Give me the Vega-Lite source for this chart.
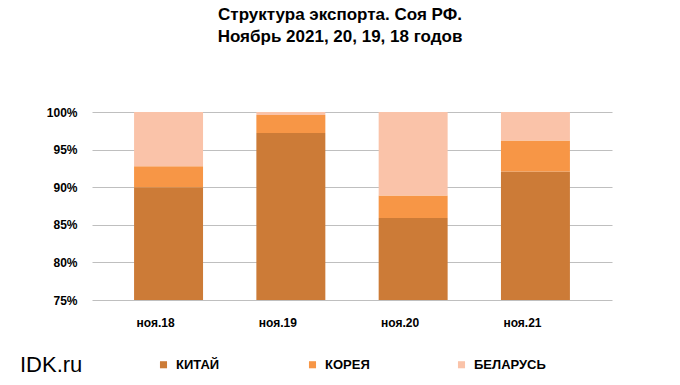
{
  "$schema": "https://vega.github.io/schema/vega-lite/v6.json",
  "width": 520,
  "height": 188,
  "autosize": {"type": "none"},
  "padding": {"left": 92, "top": 112, "right": 68, "bottom": 85},
  "background": "white",
  "title": {
    "text": ["Структура экспорта. Соя РФ.", "Ноябрь 2021, 20, 19, 18 годов"],
    "font": "Liberation Sans",
    "fontSize": 17,
    "fontWeight": "bold",
    "lineHeight": 22,
    "color": "#000000",
    "anchor": "middle",
    "offset": 60,
    "dx": -12
  },
  "data": {
    "values": [
      {"month": "ноя.18", "country": "КИТАЙ", "share": 0.900, "ord": 1},
      {"month": "ноя.18", "country": "КОРЕЯ", "share": 0.028, "ord": 2},
      {"month": "ноя.18", "country": "БЕЛАРУСЬ", "share": 0.072, "ord": 3},
      {"month": "ноя.19", "country": "КИТАЙ", "share": 0.972, "ord": 1},
      {"month": "ноя.19", "country": "КОРЕЯ", "share": 0.024, "ord": 2},
      {"month": "ноя.19", "country": "БЕЛАРУСЬ", "share": 0.004, "ord": 3},
      {"month": "ноя.20", "country": "КИТАЙ", "share": 0.859, "ord": 1},
      {"month": "ноя.20", "country": "КОРЕЯ", "share": 0.030, "ord": 2},
      {"month": "ноя.20", "country": "БЕЛАРУСЬ", "share": 0.111, "ord": 3},
      {"month": "ноя.21", "country": "КИТАЙ", "share": 0.921, "ord": 1},
      {"month": "ноя.21", "country": "КОРЕЯ", "share": 0.041, "ord": 2},
      {"month": "ноя.21", "country": "БЕЛАРУСЬ", "share": 0.038, "ord": 3}
    ]
  },
  "mark": {"type": "bar", "clip": true},
  "encoding": {
    "x": {
      "field": "month",
      "type": "nominal",
      "sort": ["ноя.18", "ноя.19", "ноя.20", "ноя.21"],
      "scale": {"paddingInner": 0.436, "paddingOuter": 0.344},
      "axis": {
        "title": null,
        "labelAngle": 0,
        "labelFont": "Liberation Sans",
        "labelFontSize": 12,
        "labelFontWeight": "bold",
        "labelColor": "#000000",
        "labelPadding": 17,
        "labelOffset": -13,
        "ticks": false,
        "domain": false
      }
    },
    "y": {
      "field": "share",
      "type": "quantitative",
      "stack": "zero",
      "scale": {"domain": [0.75, 1], "nice": false},
      "axis": {
        "title": null,
        "values": [0.75, 0.8, 0.85, 0.9, 0.95, 1.0],
        "format": ".0%",
        "labelFont": "Liberation Sans",
        "labelFontSize": 12,
        "labelFontWeight": "bold",
        "labelColor": "#000000",
        "labelPadding": 15,
        "ticks": false,
        "domain": false,
        "grid": true,
        "gridColor": "#bfbfbf",
        "gridWidth": 1
      }
    },
    "color": {
      "field": "country",
      "type": "nominal",
      "scale": {
        "domain": ["КИТАЙ", "КОРЕЯ", "БЕЛАРУСЬ"],
        "range": ["#cc7b37", "#f79646", "#fac3a9"]
      },
      "legend": {
        "orient": "none",
        "legendX": -72,
        "legendY": 246,
        "direction": "horizontal",
        "columns": 3,
        "gridAlign": "all",
        "columnPadding": 58,
        "title": "IDK.ru",
        "titleOrient": "left",
        "titleFont": "Liberation Sans",
        "titleFontSize": 22,
        "titleFontWeight": "normal",
        "titleColor": "#000000",
        "titlePadding": 74,
        "symbolType": "square",
        "symbolSize": 50,
        "symbolStrokeWidth": 0,
        "labelFont": "Liberation Sans",
        "labelFontSize": 13,
        "labelFontWeight": "bold",
        "labelColor": "#000000",
        "labelOffset": 6
      }
    },
    "order": {"field": "ord", "type": "quantitative"}
  },
  "config": {"view": {"stroke": null}}
}
